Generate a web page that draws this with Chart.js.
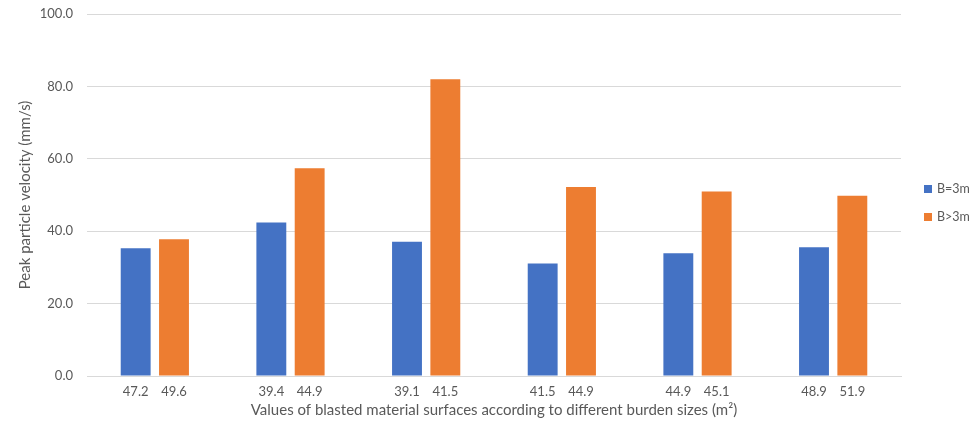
<!DOCTYPE html>
<html>
<head>
<meta charset="utf-8">
<script src="https://cdn.jsdelivr.net/npm/chart.js@4.4.1/dist/chart.umd.min.js"></script>
<style>
  html, body { margin: 0; padding: 0; background: #ffffff; }
  #wrap { width: 978px; height: 423px; position: relative; }
</style>
</head>
<body>
<div id="wrap"><canvas id="chart"></canvas></div>
<script>
// Test groups (one per blast), each with a B=3m and a B>3m shot
const groups = ['G1', 'G2', 'G3', 'G4', 'G5', 'G6'];

// Peak particle velocity (mm/s)
const ppvB3 = [35.3, 42.4, 37.1, 31.1, 33.9, 35.6];
const ppvBgt3 = [37.8, 57.4, 82.0, 52.2, 51.0, 49.8];

// Blasted material surface (m²) printed beneath each bar
const surfaceB3 = ['47.2', '39.4', '39.1', '41.5', '44.9', '48.9'];
const surfaceBgt3 = ['49.6', '44.9', '41.5', '44.9', '45.1', '51.9'];

const seriesNames = ['B=3m', 'B>3m'];
const seriesColors = ['#4472C4', '#ED7D31'];
const yTicks = [0, 20, 40, 60, 80, 100];

const FONT = 'Lato, "Open Sans", sans-serif';
const TEXT = '#595959';
const GRID = '#d9d9d9';

// Surface values written under each individual bar
const barLabels = {
  id: 'barLabels',
  afterDatasetsDraw(chart) {
    const ctx = chart.ctx;
    const lists = [surfaceB3, surfaceBgt3];
    ctx.save();
    ctx.font = '13px ' + FONT;
    ctx.fillStyle = TEXT;
    ctx.textAlign = 'center';
    ctx.textBaseline = 'middle';
    chart.data.datasets.forEach((ds, i) => {
      const meta = chart.getDatasetMeta(i);
      meta.data.forEach((bar, j) => {
        ctx.fillText(lists[i][j], bar.x, chart.chartArea.bottom + 16);
      });
    });
    ctx.restore();
  }
};

// Series key on the right of the plot
const sideLegend = {
  id: 'sideLegend',
  afterDraw(chart) {
    const ctx = chart.ctx;
    const area = chart.chartArea;
    const x = area.right + 23;
    const step = 28;
    const y0 = (area.top + area.bottom) / 2 - 6;
    ctx.save();
    ctx.font = '12.5px ' + FONT;
    ctx.textBaseline = 'middle';
    ctx.textAlign = 'left';
    chart.data.datasets.forEach((ds, i) => {
      const y = y0 + i * step;
      ctx.fillStyle = ds.backgroundColor;
      ctx.fillRect(x, y - 4, 8, 8);
      ctx.fillStyle = TEXT;
      ctx.fillText(ds.label, x + 13, y);
    });
    ctx.restore();
  }
};

new Chart(document.getElementById('chart'), {
  type: 'bar',
  data: {
    labels: groups,
    datasets: [
      { label: seriesNames[0], data: ppvB3, backgroundColor: seriesColors[0] },
      { label: seriesNames[1], data: ppvBgt3, backgroundColor: seriesColors[1] }
    ]
  },
  options: {
    responsive: true,
    maintainAspectRatio: false,
    animation: false,
    devicePixelRatio: 1,
    categoryPercentage: 0.565,
    barPercentage: 0.78,
    layout: { padding: { left: 0, right: 77, top: 14, bottom: 0 } },
    plugins: {
      legend: { display: false },
      tooltip: { enabled: false }
    },
    scales: {
      x: {
        grid: { display: false, drawTicks: false },
        border: { display: true, color: GRID, width: 1 },
        ticks: { display: false },
        title: {
          display: true,
          text: 'Values of blasted material surfaces according to different burden sizes (m²)',
          color: TEXT,
          font: { family: FONT, size: 15 },
          padding: { top: 0, bottom: 4 }
        },
        afterFit(scale) { scale.height = 47; }
      },
      y: {
        min: 0,
        max: 100,
        afterBuildTicks(scale) { scale.ticks = yTicks.map(v => ({ value: v })); },
        grid: { color: GRID, lineWidth: 1, drawTicks: true, tickLength: 9, tickColor: 'rgba(0,0,0,0)' },
        border: { display: false },
        ticks: {
          color: TEXT,
          font: { family: FONT, size: 13 },
          padding: 5,
          callback: v => Number(v).toFixed(1)
        },
        title: {
          display: true,
          text: 'Peak particle velocity (mm/s)',
          color: TEXT,
          font: { family: FONT, size: 15 },
          padding: { top: 16, bottom: 0 }
        },
        afterFit(scale) { scale.width = 87; }
      }
    }
  },
  plugins: [barLabels, sideLegend]
});
</script>
</body>
</html>
